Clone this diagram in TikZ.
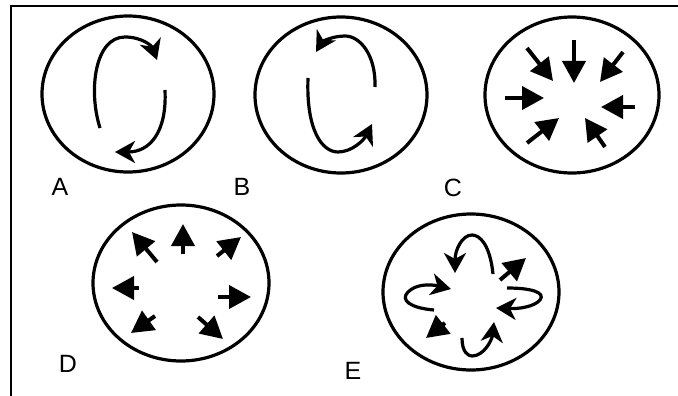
\documentclass[tikz,border=0pt]{standalone}
\usepackage{fontspec}
\setmainfont{Liberation Sans}
\usetikzlibrary{arrows.meta}

\tikzset{
  circ/.style={line width=3.2pt},
  lbl/.style={font=\fontsize{25}{25}\selectfont},
  flow/.style={line width=3.2pt,-{Stealth[length=20pt,width=22pt,inset=6pt]}},
  push/.style={line width=4pt,-{Triangle[length=22pt,width=23pt]}}
}

\begin{document}
\begin{tikzpicture}[x=1pt,y=-1pt]
  \useasboundingbox (0,0) rectangle (678,396);
  % frame
  \draw[line width=2.2pt] (11,396) -- (11,6) -- (678,6);

  % A: clockwise
  \draw[circ] (128,94) ellipse (86 and 78);
  \draw[flow] (100,128) .. controls (88,90) and (95,37) .. (125,37) .. controls (142,37) and (152,46) .. (157,60);
  \draw[flow] (165,90) .. controls (167,132) and (150,152) .. (115,152);
  \node[lbl] (lA) at (60,187) {A};

  % B: anticlockwise
  \draw[circ] (341,95) ellipse (86 and 78);
  \draw[flow] (375,87) .. controls (376,55) and (360,36) .. (345,36) .. controls (332,36) and (322,42) .. (316,52);
  \draw[flow] (308,78) .. controls (306,130) and (322,152) .. (338,152) .. controls (352,152) and (364,140) .. (372,124);
  \node[lbl] (lB) at (242,187) {B};

  % C: inward
  \draw[circ] (572,95) ellipse (87 and 78);
  \foreach \tx/\ty/\hx/\hy in {574/40/574/83, 527/48/553/81, 623/52/600/82,
                               505/98/544/98, 635/107/601/107,
                               527/143/559/118, 605/147/585/118}
    \draw[push] (\tx,\ty) -- (\hx,\hy);
  \node[lbl] (lC) at (453,188) {C};

  % D: outward
  \draw[circ] (181,283) ellipse (88 and 78);
  \foreach \tx/\ty/\hx/\hy in {183/254/183/224, 157/262/132/232, 217/256/241/237,
                               139/288/112/288, 218/297/251/297,
                               155/316/131/333, 198/317/223/339}
    \draw[push] (\tx,\ty) -- (\hx,\hy);
  \node[lbl] (lD) at (68,364) {D};

  % E: mixed
  \draw[circ] (471,292) ellipse (88 and 78);
  \draw[flow] (493,274) .. controls (490,245) and (480,235) .. (472,235) .. controls (462,235) and (455,250) .. (455,273);
  \draw[push] (500,280) -- (526,258);
  \draw[flow] (434,310) .. controls (410,308) and (400,300) .. (408,292) .. controls (416,284) and (430,284) .. (451,289);
  \draw[flow] (507,288) .. controls (530,288) and (546,292) .. (540,300) .. controls (534,307) and (518,309) .. (496,308);
  \draw[push] (445,323) -- (426,338);
  \draw[flow] (462,338) .. controls (462,352) and (468,356) .. (472,356) .. controls (484,356) and (492,340) .. (494,322);
  \node[lbl] (lE) at (353,371) {E};
\end{tikzpicture}
\end{document}
